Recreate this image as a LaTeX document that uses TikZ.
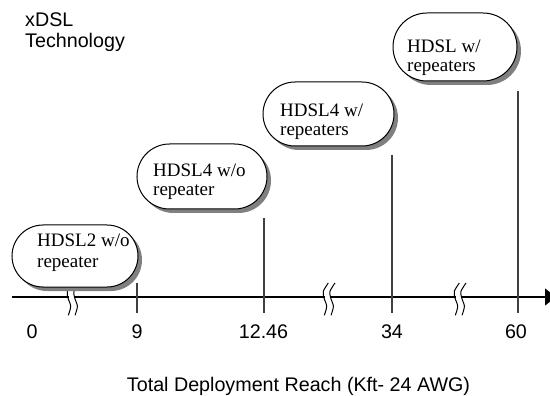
\documentclass[tikz,border=0pt]{standalone}
\usepackage{fontspec}
\setmainfont{Liberation Serif}
\newfontfamily\labelfont{Liberation Sans}
\usetikzlibrary{arrows.meta,shadows,shapes.misc}
\begin{document}
\begin{tikzpicture}[x=1pt,y=-1pt,
  bubble/.style={rounded rectangle, draw=black, line width=1pt, fill=white,
    inner sep=0pt,
    drop shadow={shadow xshift=4pt, shadow yshift=-4pt, fill=black!50, opacity=1}},
  btext/.style={font=\fontsize{19pt}{21pt}\selectfont, anchor=base west, inner sep=0pt},
  lab/.style={font=\labelfont\fontsize{19.7pt}{22pt}\selectfont, inner sep=0pt},
  tickline/.style={draw=black!75, line width=1.2pt},
  axisline/.style={draw=black, line width=1.2pt},
  axisbreak/.pic={
    \fill[white] (2.5,-1.6) rectangle (8.8,1.6);
    \draw[line width=1pt] plot[smooth] coordinates {(6.3,-14) (1.3,-5.7) (2,1) (4.7,9.3) (2.3,18.3)};
    \draw[line width=1pt] plot[smooth] coordinates {(13,-14) (8,-5.7) (8.7,1) (11.4,9.3) (9,18.3)};
  }]
\useasboundingbox (0,0) rectangle (550,396);
\clip (0,0) rectangle (550,396);

% axis with arrow
\coordinate (ax0) at (12,297);
\coordinate (ax1) at (556,297);
\draw[axisline, -{Triangle[length=11pt,width=17pt]}] (ax0) -- (ax1);

% ticks
\coordinate (k9a) at (137,283);   \coordinate (k9b) at (137,313);
\coordinate (k12a) at (264,218);  \coordinate (k12b) at (264,313);
\coordinate (k34a) at (392,155);  \coordinate (k34b) at (392,313);
\coordinate (k60a) at (518,91);   \coordinate (k60b) at (518,313);
\draw[tickline] (k9a) -- (k9b);
\draw[tickline] (k12a) -- (k12b);
\draw[tickline] (k34a) -- (k34b);
\draw[tickline] (k60a) -- (k60b);

% axis breaks
\pic (br1) at (66,297) {axisbreak};
\pic (br2) at (322,297) {axisbreak};
\pic (br3) at (453,297) {axisbreak};

% bubbles
\node[bubble, minimum width=126pt, minimum height=62pt] (b1) at (75,256) {};
\node[bubble, minimum width=130pt, minimum height=65pt] (b2) at (202,176.5) {};
\node[bubble, minimum width=131pt, minimum height=64pt] (b3) at (328.5,114) {};
\node[bubble, minimum width=124pt, minimum height=68pt] (b4) at (455,47) {};

\node[btext] (t1a) at (37,247) {HDSL2 w/o};
\node[btext] (t1b) at (37,267) {repeater};
\node[btext] (t2a) at (153,177) {HDSL4 w/o};
\node[btext] (t2b) at (153,196) {repeater};
\node[btext] (t3a) at (280,117) {HDSL4 w/};
\node[btext] (t3b) at (280,136) {repeaters};
\node[btext] (t4a) at (407,53) {HDSL w/};
\node[btext] (t4b) at (407,72) {repeaters};

% tick labels
\node[lab, anchor=base] (n0) at (32,338) {0};
\node[lab, anchor=base] (n9) at (137,338) {9};
\node[lab, anchor=base] (n12) at (263.5,338) {12.46};
\node[lab, anchor=base] (n34) at (392,338) {34};
\node[lab, anchor=base] (n60) at (516,338) {60};

% titles
\node[lab, anchor=base west] (ttl1) at (25,27) {xDSL};
\node[lab, anchor=base west] (ttl2) at (25,48) {Technology};
\node[lab, anchor=base] (xlab) at (298.5,391) {Total Deployment Reach (Kft- 24 AWG)};
\end{tikzpicture}
\end{document}
